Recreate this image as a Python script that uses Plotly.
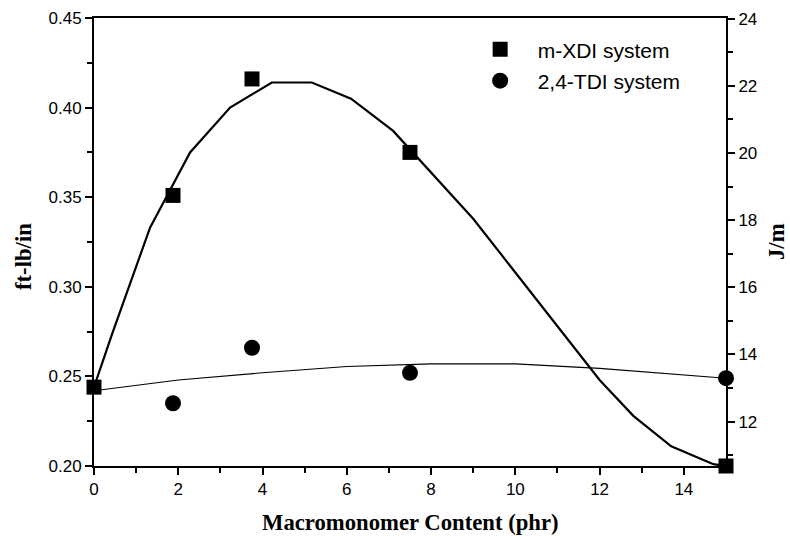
import plotly.graph_objects as go

# Data
phr = [0, 1.875, 3.75, 7.5, 15]
xdi = [0.244, 0.351, 0.416, 0.375, 0.200]
tdi_x = [1.875, 3.75, 7.5, 15]
tdi = [0.235, 0.266, 0.252, 0.249]

xdi_fit_x = [0, 0.42, 1.33, 2.28, 3.23, 4.22, 5.17, 6.1, 7.1, 8.0, 9.0, 10.0, 11.0, 12.0, 12.8, 13.7, 14.7, 15]
xdi_fit_y = [0.244, 0.273, 0.333, 0.375, 0.400, 0.414, 0.414, 0.405, 0.387, 0.364, 0.338, 0.308, 0.278, 0.248, 0.228, 0.211, 0.201, 0.200]
tdi_fit_x = [0, 2, 4, 6, 8, 10, 12, 14, 15]
tdi_fit_y = [0.242, 0.248, 0.252, 0.2555, 0.257, 0.257, 0.2545, 0.251, 0.249]

CONV = 53.38  # ft-lb/in -> J/m
y_range = [0.20, 0.45]

tick_font = dict(family="Liberation Sans, Arial", size=17, color="black")
title_font = dict(family="Liberation Serif, Times New Roman", size=22.7, color="black")
NB = "\u00a0" * 3

fig = go.Figure()
fig.add_trace(go.Scatter(x=xdi_fit_x, y=xdi_fit_y, mode="lines",
                         line=dict(color="black", width=2.2), showlegend=False, hoverinfo="skip"))
fig.add_trace(go.Scatter(x=tdi_fit_x, y=tdi_fit_y, mode="lines",
                         line=dict(color="black", width=1.1), showlegend=False, hoverinfo="skip"))
fig.add_trace(go.Scatter(x=phr, y=xdi, mode="markers", name=NB + "m-XDI system", legendgroup="a",
                         marker=dict(symbol="square", size=15, color="black"), cliponaxis=False))
fig.add_trace(go.Scatter(x=tdi_x, y=tdi, mode="markers", name=NB + "2,4-TDI system", legendgroup="b",
                         marker=dict(symbol="circle", size=16, color="black"), cliponaxis=False))
fig.add_trace(go.Scatter(x=[0], y=[12], yaxis="y2", mode="markers",
                         marker=dict(opacity=0), showlegend=False, hoverinfo="skip"))

fig.update_layout(
    width=790, height=536,
    margin=dict(l=94, r=64, t=18, b=70, autoexpand=False),
    plot_bgcolor="white", paper_bgcolor="white",
    xaxis=dict(range=[0, 15], tickvals=[0, 2, 4, 6, 8, 10, 12, 14], automargin=False,
               ticks="outside", ticklen=7, tickwidth=1.5, tickcolor="black",
               minor=dict(tickvals=[1, 3, 5, 7, 9, 11, 13], ticks="outside", ticklen=5, tickwidth=1.5, tickcolor="black"),
               showline=True, linecolor="black", linewidth=2, mirror=True,
               showgrid=False, zeroline=False, tickfont=tick_font),
    yaxis=dict(range=y_range, tickvals=[0.20, 0.25, 0.30, 0.35, 0.40, 0.45], tickformat=".2f", automargin=False,
               ticks="outside", ticklen=7, tickwidth=1.5, tickcolor="black",
               minor=dict(tickvals=[0.225, 0.275, 0.325, 0.375, 0.425], ticks="outside", ticklen=5, tickwidth=1.5, tickcolor="black"),
               showline=True, linecolor="black", linewidth=2,
               showgrid=False, zeroline=False, tickfont=tick_font),
    yaxis2=dict(overlaying="y", side="right", range=[y_range[0] * CONV, y_range[1] * CONV], automargin=False,
                tickvals=[12, 14, 16, 18, 20, 22, 24],
                ticks="outside", ticklen=7, tickwidth=1.5, tickcolor="black",
                minor=dict(tickvals=[11, 13, 15, 17, 19, 21, 23], ticks="outside", ticklen=5, tickwidth=1.5, tickcolor="black"),
                showline=True, linecolor="black", linewidth=2,
                showgrid=False, zeroline=False, tickfont=tick_font),
    legend=dict(x=0.611, y=0.975, xanchor="left", yanchor="top",
                font=dict(family="Liberation Sans, Arial", size=21, color="black"),
                bgcolor="rgba(0,0,0,0)", tracegroupgap=1, itemsizing="trace"),
    showlegend=True,
    annotations=[
        dict(text="<b>Macromonomer Content (phr)</b>", xref="paper", yref="paper", x=0.5, y=0,
             xanchor="center", yanchor="middle", yshift=-56, showarrow=False, font=title_font),
        dict(text="<b>ft-lb/in</b>", xref="paper", yref="paper", x=0, y=0.5, textangle=-90,
             xanchor="center", yanchor="middle", xshift=-71, yshift=-15, showarrow=False, font=title_font),
        dict(text="<b>J/m</b>", xref="paper", yref="paper", x=1, y=0.5, textangle=-90,
             xanchor="center", yanchor="middle", xshift=50, showarrow=False, font=title_font),
    ],
)

fig.write_html("out.html")
